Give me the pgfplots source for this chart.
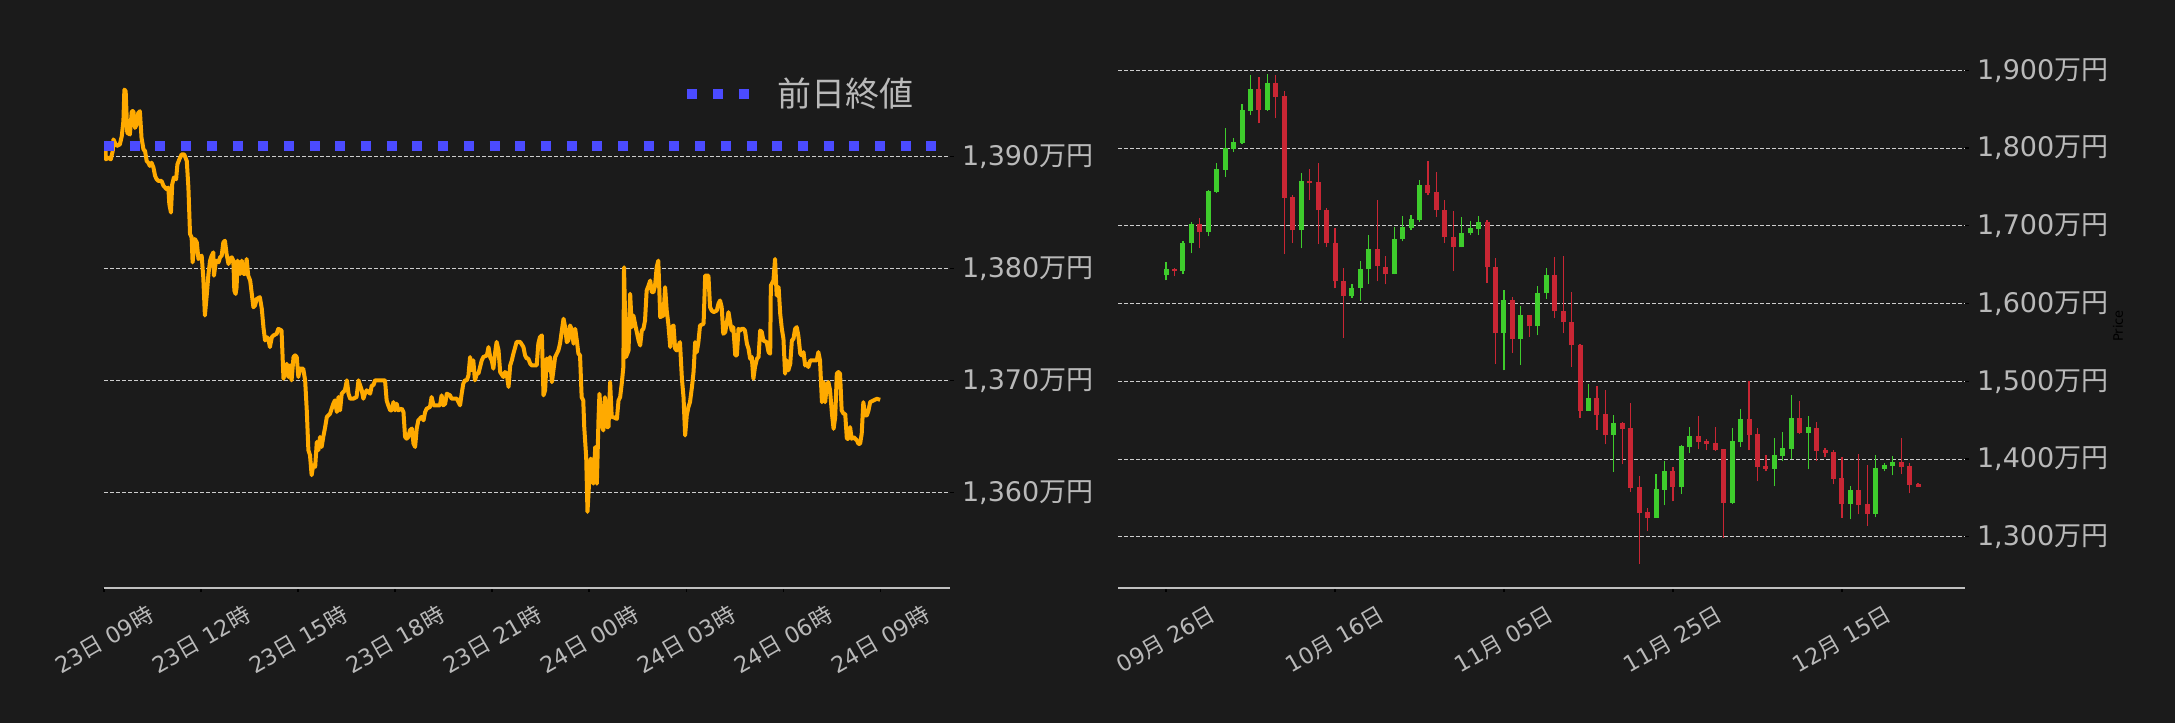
\documentclass[border=0pt]{standalone}
\usepackage{fontspec}
\setmainfont{DejaVu Sans}
\newfontfamily\cjk{Noto Sans CJK JP}
\usepackage{pgfplots}
\pgfplotsset{compat=1.18}
\usepackage{pgfplotstable}
\definecolor{bgc}{RGB}{27,27,27}
\definecolor{tgray}{RGB}{185,185,185}
\definecolor{lgray}{RGB}{192,192,192}
\definecolor{gridc}{RGB}{205,205,205}
\definecolor{orng}{RGB}{255,170,0}
\definecolor{blu}{RGB}{75,75,255}
\definecolor{cgreen}{RGB}{62,204,44}
\definecolor{cred}{RGB}{201,38,52}

\pgfplotstableread{
d O H L C
0 1636.2 1653.3 1629.7 1644.7
2 1641.3 1680.3 1637.4 1678.1
3 1677.3 1705.1 1664.4 1702.5
5 1691.4 1746.2 1686.3 1744.9
6 1744.1 1780.5 1741.9 1773.2
7 1772.3 1825.5 1763.4 1799.8
8 1799.3 1812.6 1795.5 1807.9
9 1807.0 1856.3 1805.3 1849.0
10 1848.2 1893.6 1843.0 1876.0
12 1849.4 1894.8 1848.0 1883.7
16 1694.0 1767.6 1670.9 1757.8
22 1609.2 1625.0 1607.0 1620.3
23 1619.5 1654.6 1603.6 1644.7
24 1643.9 1688.0 1625.0 1670.4
27 1637.4 1699.1 1637.4 1683.3
28 1682.4 1712.4 1679.9 1698.7
29 1697.8 1714.1 1694.4 1709.0
30 1708.1 1758.6 1705.1 1752.6
35 1672.1 1711.1 1672.1 1691.0
36 1690.1 1706.0 1688.0 1697.4
37 1696.5 1712.4 1688.0 1705.1
40 1561.6 1617.7 1514.1 1604.9
42 1553.9 1597.2 1521.0 1585.6
44 1570.6 1622.5 1559.1 1613.9
45 1613.0 1645.6 1605.8 1637.0
50 1461.9 1497.0 1461.9 1478.2
53 1431.1 1457.2 1383.6 1446.1
58 1324.6 1380.6 1324.6 1361.4
59 1360.5 1397.8 1340.4 1384.5
61 1364.0 1418.3 1354.9 1416.6
62 1415.7 1441.4 1407.2 1429.4
67 1343.8 1439.7 1342.6 1423.0
68 1422.1 1464.9 1415.7 1451.2
72 1387.5 1426.8 1364.8 1405.0
73 1404.2 1435.4 1396.9 1414.0
74 1413.2 1482.9 1399.9 1452.5
76 1433.7 1455.9 1386.6 1441.0
81 1342.6 1365.2 1322.4 1360.1
84 1329.7 1405.0 1325.0 1388.3
85 1387.5 1394.3 1384.1 1392.6
86 1391.3 1403.7 1378.9 1396.0
}\greenT

\pgfplotstableread{
d O H L C
1 1644.7 1645.6 1634.9 1641.3
4 1702.5 1709.8 1670.9 1691.4
11 1876.0 1891.0 1831.9 1849.4
13 1883.7 1893.6 1838.3 1866.1
14 1867.0 1873.9 1663.6 1736.4
15 1737.2 1739.4 1677.7 1694.0
17 1757.8 1773.2 1733.0 1755.7
18 1756.5 1780.5 1676.4 1719.7
19 1720.5 1722.7 1672.6 1677.3
20 1678.1 1697.8 1619.5 1628.5
21 1629.3 1645.6 1555.6 1609.2
25 1670.4 1733.0 1628.5 1647.7
26 1647.3 1661.0 1624.6 1637.4
31 1752.6 1783.5 1739.0 1742.8
32 1743.7 1768.9 1711.1 1719.7
33 1720.5 1733.0 1677.7 1685.0
34 1685.8 1718.8 1641.7 1672.1
38 1705.1 1707.3 1626.3 1646.4
39 1647.3 1658.0 1522.2 1561.6
41 1604.9 1608.3 1536.4 1553.9
43 1585.6 1585.6 1557.0 1570.6
46 1637.0 1659.7 1581.3 1589.9
47 1590.8 1661.4 1561.6 1575.9
48 1576.6 1614.8 1518.4 1546.2
49 1546.2 1548.0 1453.4 1461.9
51 1478.2 1494.5 1437.1 1456.8
52 1457.7 1488.5 1418.7 1431.1
54 1446.1 1447.4 1393.0 1438.8
55 1439.7 1472.6 1358.0 1363.1
56 1363.9 1378.5 1264.7 1331.0
57 1331.9 1337.4 1307.5 1324.6
60 1384.5 1389.2 1345.6 1364.0
63 1429.4 1455.9 1412.3 1422.1
64 1423.0 1425.6 1411.0 1419.6
65 1420.4 1441.0 1410.6 1411.9
66 1412.7 1412.7 1298.9 1343.8
69 1451.2 1500.0 1411.0 1431.1
70 1432.0 1439.7 1371.2 1390.1
71 1390.9 1405.0 1384.1 1387.5
75 1452.5 1474.3 1432.8 1433.7
77 1439.7 1447.4 1397.8 1410.6
78 1411.4 1414.4 1402.0 1408.0
79 1408.9 1411.0 1367.4 1374.2
80 1375.1 1402.9 1324.6 1342.6
82 1360.1 1406.3 1328.9 1340.8
83 1342.1 1391.8 1314.3 1329.7
87 1396.0 1427.3 1380.6 1390.1
88 1390.9 1395.2 1355.8 1366.9
89 1367.8 1368.7 1363.5 1364.0
}\redT

\pgfplotstableread{
h v
0.03 1391.37
0.06 1389.74
0.13 1389.89
0.21 1389.74
0.27 1390.48
0.29 1391.52
0.34 1391.22
0.39 1390.93
0.49 1391.07
0.55 1391.82
0.60 1393.15
0.63 1395.97
0.67 1395.82
0.72 1392.11
0.80 1391.96
0.86 1394.04
0.91 1394.04
0.96 1392.55
1.01 1392.85
1.06 1393.89
1.11 1394.04
1.16 1391.67
1.22 1390.63
1.27 1390.48
1.32 1389.59
1.37 1389.44
1.42 1389.15
1.47 1389.44
1.53 1389.00
1.58 1388.26
1.63 1387.96
1.68 1387.81
1.78 1387.81
1.84 1387.37
1.94 1387.07
1.99 1387.22
2.02 1385.74
2.07 1384.99
2.11 1387.51
2.16 1388.11
2.23 1387.96
2.27 1389.29
2.33 1389.74
2.40 1390.18
2.48 1390.18
2.56 1389.59
2.61 1387.22
2.66 1383.07
2.71 1382.77
2.74 1380.54
2.81 1382.62
2.87 1382.32
2.92 1380.84
2.97 1380.99
3.02 1381.14
3.07 1379.21
3.12 1375.79
3.18 1377.72
3.23 1379.50
3.28 1380.69
3.33 1381.14
3.38 1381.43
3.40 1379.35
3.46 1380.69
3.54 1380.54
3.59 1380.99
3.64 1381.14
3.69 1382.32
3.74 1382.47
3.79 1381.29
3.85 1380.39
3.90 1380.84
3.95 1380.99
4.00 1380.69
4.03 1378.02
4.07 1377.72
4.10 1378.31
4.13 1380.69
4.21 1379.50
4.26 1380.69
4.31 1379.50
4.36 1379.50
4.41 1380.84
4.46 1379.35
4.52 1378.91
4.57 1377.72
4.62 1376.53
4.67 1376.68
4.72 1377.27
4.82 1377.42
4.88 1376.38
4.93 1374.75
4.98 1373.56
5.03 1373.86
5.08 1373.71
5.13 1372.97
5.19 1373.86
5.24 1374.01
5.34 1374.16
5.39 1374.60
5.49 1374.45
5.55 1370.15
5.65 1371.48
5.70 1370.30
5.75 1371.33
5.80 1370.00
5.86 1372.08
5.91 1372.23
5.96 1372.08
6.01 1370.30
6.06 1371.04
6.16 1371.04
6.22 1370.00
6.27 1367.32
6.32 1363.76
6.37 1363.31
6.42 1361.53
6.47 1362.42
6.53 1362.27
6.58 1364.50
6.63 1363.76
6.68 1364.94
6.73 1364.05
6.78 1364.94
6.84 1365.84
6.89 1366.73
6.99 1367.02
7.09 1367.91
7.14 1368.21
7.20 1367.17
7.25 1368.51
7.30 1367.32
7.35 1368.81
7.45 1369.11
7.51 1370.00
7.56 1368.81
7.61 1368.36
7.71 1368.36
7.81 1368.51
7.87 1370.00
7.92 1369.55
7.97 1369.11
8.02 1368.36
8.07 1368.81
8.12 1369.11
8.23 1368.81
8.28 1369.55
8.33 1369.55
8.38 1370.00
8.69 1370.00
8.74 1368.21
8.79 1367.77
8.85 1367.32
8.90 1367.32
8.95 1368.06
9.00 1367.32
9.05 1367.91
9.10 1367.32
9.21 1367.47
9.26 1367.17
9.31 1364.94
9.36 1364.79
9.41 1364.94
9.46 1365.54
9.52 1365.69
9.57 1364.35
9.62 1364.05
9.67 1365.69
9.72 1366.43
9.82 1366.73
9.88 1366.43
9.93 1367.17
9.98 1367.47
10.08 1367.62
10.13 1368.51
10.19 1367.77
10.39 1367.77
10.44 1368.66
10.49 1367.77
10.55 1367.91
10.60 1368.81
10.70 1368.66
10.75 1368.36
10.91 1368.36
11.01 1367.77
11.06 1368.81
11.11 1369.70
11.16 1370.00
11.22 1370.00
11.27 1370.45
11.32 1372.08
11.37 1370.91
11.42 1371.78
11.47 1370.00
11.53 1370.61
11.58 1370.61
11.63 1371.19
11.68 1371.78
11.73 1372.08
11.84 1372.23
11.89 1372.97
11.94 1372.08
11.99 1371.78
12.04 1371.04
12.09 1372.39
12.14 1373.43
12.20 1372.69
12.25 1370.74
12.35 1370.30
12.40 1370.74
12.45 1370.61
12.51 1369.41
12.56 1371.33
12.61 1371.78
12.66 1372.39
12.76 1373.43
12.87 1373.43
12.97 1372.97
13.02 1372.23
13.07 1371.95
13.12 1371.95
13.18 1371.48
13.23 1371.33
13.38 1371.33
13.43 1373.28
13.48 1373.86
13.54 1374.01
13.59 1368.66
13.64 1369.11
13.69 1371.95
13.74 1370.91
13.79 1372.08
13.85 1369.84
13.95 1372.08
14.05 1372.67
14.10 1373.27
14.21 1375.50
14.26 1374.75
14.31 1373.41
14.36 1373.56
14.41 1374.90
14.46 1374.60
14.52 1373.27
14.57 1374.60
14.62 1373.56
14.67 1372.38
14.72 1372.23
14.77 1368.50
14.82 1368.20
14.85 1365.82
14.91 1363.15
14.95 1358.25
15.01 1361.37
15.05 1363.00
15.08 1362.85
15.13 1360.77
15.19 1364.04
15.24 1360.77
15.29 1366.42
15.32 1368.80
15.39 1366.16
15.44 1365.52
15.49 1368.50
15.55 1365.82
15.60 1365.82
15.65 1369.84
15.70 1366.71
15.75 1366.71
15.86 1366.56
15.91 1368.20
15.96 1368.50
16.01 1369.72
16.06 1371.19
16.08 1380.10
16.14 1372.08
16.22 1372.67
16.27 1377.73
16.32 1374.75
16.37 1375.79
16.42 1375.05
16.53 1373.56
16.58 1373.12
16.63 1374.45
16.68 1374.60
16.73 1375.35
16.78 1378.02
16.84 1378.47
16.89 1378.91
16.94 1377.87
16.99 1377.87
17.04 1378.47
17.09 1380.10
17.14 1380.69
17.20 1375.65
17.30 1375.79
17.35 1378.32
17.40 1376.24
17.45 1375.05
17.51 1372.97
17.56 1374.75
17.61 1374.90
17.66 1372.82
17.71 1372.67
17.81 1373.41
17.87 1370.14
17.92 1368.50
17.97 1365.08
18.02 1366.86
18.07 1367.61
18.12 1368.05
18.18 1369.39
18.23 1370.74
18.28 1373.41
18.33 1372.52
18.38 1373.41
18.43 1374.90
18.54 1375.05
18.59 1379.36
18.69 1379.36
18.74 1376.54
18.79 1376.24
18.85 1376.09
18.95 1376.24
19.00 1376.84
19.05 1377.13
19.10 1376.54
19.15 1374.16
19.21 1374.31
19.31 1376.09
19.36 1375.20
19.41 1374.45
19.46 1374.75
19.52 1372.23
19.57 1372.23
19.62 1374.60
19.67 1374.45
19.72 1374.60
19.77 1374.60
19.82 1374.45
19.88 1373.27
19.93 1372.82
19.98 1371.93
20.03 1372.08
20.08 1370.14
20.13 1371.19
20.19 1371.93
20.24 1372.08
20.29 1374.45
20.34 1374.31
20.39 1373.56
20.49 1373.41
20.55 1372.52
20.60 1372.38
20.62 1378.47
20.70 1378.91
20.75 1380.84
20.80 1377.58
20.86 1378.32
20.91 1375.94
20.96 1374.60
21.01 1373.71
21.06 1370.59
21.11 1371.78
21.16 1370.89
21.22 1371.48
21.27 1373.56
21.32 1373.71
21.37 1374.60
21.42 1374.75
21.47 1374.01
21.53 1372.38
21.58 1372.23
21.63 1372.52
21.68 1371.33
21.73 1371.48
21.78 1371.19
21.84 1371.78
21.94 1371.78
22.04 1371.78
22.09 1372.52
22.14 1371.78
22.20 1368.05
22.25 1369.84
22.30 1368.05
22.35 1369.54
22.40 1369.84
22.45 1369.13
22.51 1367.01
22.56 1365.67
22.61 1366.71
22.66 1370.59
22.71 1370.74
22.76 1370.59
22.81 1367.31
22.87 1367.01
22.92 1367.01
22.97 1364.78
23.02 1364.78
23.07 1365.82
23.12 1364.78
23.18 1364.93
23.28 1364.63
23.33 1364.33
23.38 1364.33
23.43 1365.23
23.48 1368.05
23.54 1366.86
23.59 1366.86
23.64 1367.31
23.69 1368.05
23.79 1368.20
23.90 1368.35
24.00 1368.26
}\intraT

\pgfplotsset{
  darkax/.style={
    scale only axis, anchor=south west,
    width=423pt, height=274pt,
    axis x line=bottom, axis y line=right,
    x axis line style={-, draw=lgray, line width=1pt},
    y axis line style={draw=none},
    enlargelimits=false, clip=true,
    ymajorgrids, xmajorgrids=false,
    major grid style={draw=gridc, line width=0.45pt, dash pattern=on 2pt off 1pt},
    tick style={draw=black, line width=0.6pt},
    major tick length=1.8pt, tick align=outside,
    minor tick num=0,
    xticklabel style={yshift=-24pt, rotate=30, anchor=center, text=tgray, font=\fontsize{11.2}{13}\selectfont},
    yticklabel style={anchor=west, inner sep=0pt, xshift=4pt, text=tgray, font=\fontsize{13.5}{15}\selectfont},
  }
}

\begin{document}
\begin{tikzpicture}
\fill[bgc] (0,0) rectangle (1087.5pt,361.5pt);

% left: intraday
\begin{axis}[darkax, at={(52pt,67.5pt)},
  xmin=0, xmax=26.16, ymin=1351.45, ymax=1400.4,
  xtick={0,3,6,9,12,15,18,21,24},
  xticklabels={{23{\cjk 日} 09{\cjk 時}},{23{\cjk 日} 12{\cjk 時}},{23{\cjk 日} 15{\cjk 時}},{23{\cjk 日} 18{\cjk 時}},{23{\cjk 日} 21{\cjk 時}},{24{\cjk 日} 00{\cjk 時}},{24{\cjk 日} 03{\cjk 時}},{24{\cjk 日} 06{\cjk 時}},{24{\cjk 日} 09{\cjk 時}}},
  ytick={1360,1370,1380,1390},
  yticklabels={{1,360{\cjk 万円}},{1,370{\cjk 万円}},{1,380{\cjk 万円}},{1,390{\cjk 万円}}},
  legend style={at={(0.6832,0.9015)}, anchor=west, draw=none, fill=none, text=tgray,
    font=\cjk\fontsize{17}{20}\selectfont, inner sep=0pt, row sep=0pt},
  legend image code/.code={\draw[#1, line width=5pt, dash pattern=on 5pt off 7.85pt] (0pt,0pt) -- (30.7pt,0pt);},
]
\addplot[orng, line width=2pt, line join=round, forget plot] table[x=h, y=v] \intraT;
\addplot[blu, line width=5pt, dash pattern=on 5pt off 7.85pt] coordinates {(0,1390.93) (26.16,1390.93)};
\addlegendentry{\hspace{10pt}前日終値}
\end{axis}

% right: daily candles
\begin{axis}[darkax, at={(559pt,67.5pt)}, width=423.5pt,
  xmin=-5.68, xmax=94.56, ymin=1234.1, ymax=1939.0,
  xtick={0,20,40,60,80},
  xticklabels={{09{\cjk 月} 26{\cjk 日}},{10{\cjk 月} 16{\cjk 日}},{11{\cjk 月} 05{\cjk 日}},{11{\cjk 月} 25{\cjk 日}},{12{\cjk 月} 15{\cjk 日}}},
  ytick={1300,1400,1500,1600,1700,1800,1900},
  yticklabels={{1,300{\cjk 万円}},{1,400{\cjk 万円}},{1,500{\cjk 万円}},{1,600{\cjk 万円}},{1,700{\cjk 万円}},{1,800{\cjk 万円}},{1,900{\cjk 万円}}},
  ylabel={Price},
  every axis y label/.style={at={(axis description cs:1.1806,0.478)}, anchor=center, rotate=90, text=black, font=\fontsize{6.5}{7}\selectfont},
]
\addplot[draw=none, mark=none, forget plot, error bars/.cd, y dir=plus, y explicit, error mark=none,
  error bar style={draw=cgreen, line width=0.6pt}]
  table[x=d, y=L, y error plus expr=\thisrow{H}-\thisrow{L}] \greenT;
\addplot[draw=none, mark=none, forget plot, error bars/.cd, y dir=plus, y explicit, error mark=none,
  error bar style={draw=cred, line width=0.6pt}]
  table[x=d, y=L, y error plus expr=\thisrow{H}-\thisrow{L}] \redT;
\addplot[draw=none, mark=none, forget plot, error bars/.cd, y dir=plus, y explicit, error mark=none,
  error bar style={draw=cgreen, line width=2.5pt}]
  table[x=d, y=O, y error plus expr=\thisrow{C}-\thisrow{O}] \greenT;
\addplot[draw=none, mark=none, forget plot, error bars/.cd, y dir=plus, y explicit, error mark=none,
  error bar style={draw=cred, line width=2.5pt}]
  table[x=d, y=C, y error plus expr=\thisrow{O}-\thisrow{C}] \redT;
\end{axis}

\pgfresetboundingbox
\path[use as bounding box] (0,0) rectangle (1087.5pt,361.5pt);
\end{tikzpicture}
\end{document}
